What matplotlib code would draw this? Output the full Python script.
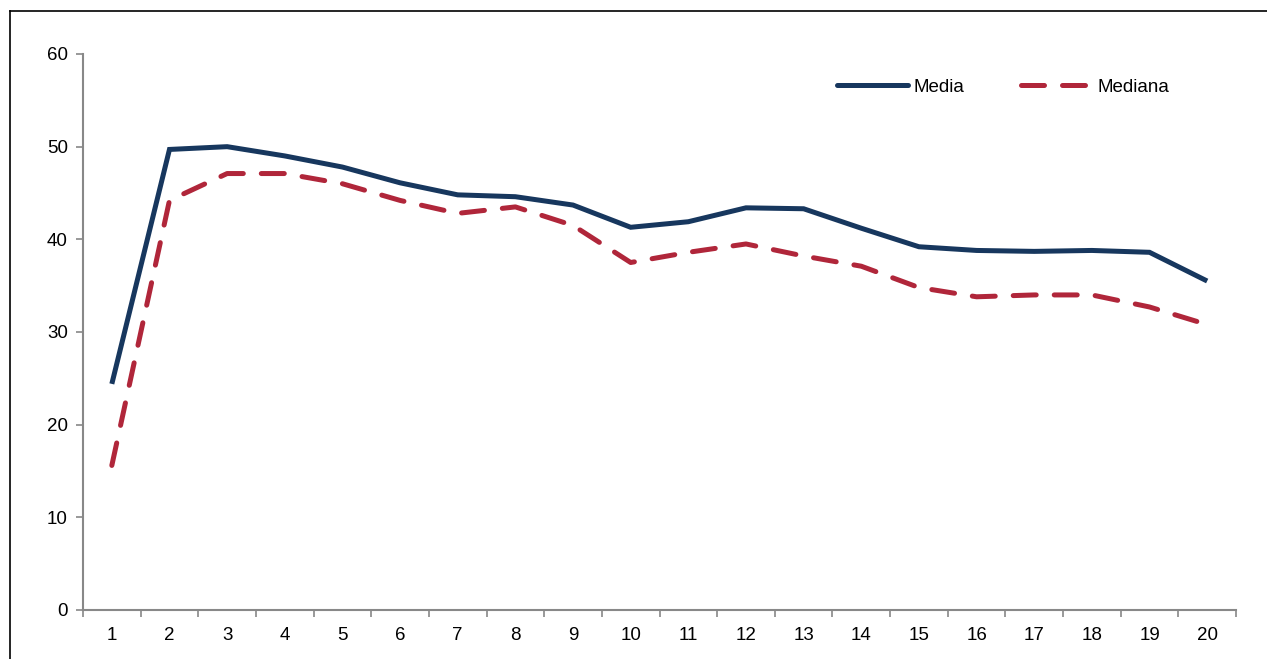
import matplotlib
matplotlib.use("Agg")
import matplotlib.pyplot as plt
from matplotlib.lines import Line2D

# values
categories = list(range(1, 21))
media = [24.4, 49.7, 50.0, 49.0, 47.8, 46.1, 44.8, 44.6, 43.7, 41.3,
         41.9, 43.4, 43.3, 41.2, 39.2, 38.8, 38.7, 38.8, 38.6, 35.5]
mediana = [15.6, 44.2, 47.1, 47.1, 46.0, 44.2, 42.8, 43.5, 41.5, 37.5,
           38.6, 39.5, 38.2, 37.1, 34.8, 33.8, 34.0, 34.0, 32.7, 30.8]
yticks = [0, 10, 20, 30, 40, 50, 60]

plt.rcParams['font.family'] = ['Liberation Sans', 'DejaVu Sans']

fig = plt.figure(figsize=(12.67, 6.59), dpi=100)
ax = fig.add_axes([83 / 1267, 49 / 659, 1153 / 1267, 556 / 659])

ax.plot(categories, media, color='#17375E', lw=3.6, label='Media',
        solid_joinstyle='miter', solid_capstyle='butt')
ax.plot(categories, mediana, color='#B0263A', lw=3.6, label='Mediana',
        dashes=(4.6, 3.6), dash_capstyle='round')

ax.set_xlim(0.5, 20.5)
ax.set_ylim(0, 60)
ax.set_yticks(yticks)

# category axis: ticks between categories, labels centred
ax.set_xticks([c - 0.5 for c in categories] + [20.5])
ax.set_xticklabels([])
ax.set_xticks(categories, minor=True)
ax.set_xticklabels([str(c) for c in categories], minor=True)
ax.tick_params(axis='x', which='minor', length=0, labelsize=13.5, pad=12)
ax.tick_params(axis='x', which='major', length=5, color='#888888', width=1.2)
ax.tick_params(axis='y', length=5, color='#888888', width=1.2, labelsize=13.5, pad=6)

for s in ['top', 'right']:
    ax.spines[s].set_visible(False)
for s in ['left', 'bottom']:
    ax.spines[s].set_color('#888888')
    ax.spines[s].set_linewidth(1.5)

leg = ax.legend(loc='upper left', bbox_to_anchor=(737 / 1153, 0.986), ncol=2, frameon=False,
                fontsize=13.5, handlelength=3.8, handletextpad=0.3, columnspacing=3.0)
for h in leg.get_lines():
    h.set_solid_capstyle('round')

# outer frame (only top and left visible in the crop)
fig.add_artist(Line2D([10 / 1267, 1.0], [1 - 11 / 659, 1 - 11 / 659],
                      transform=fig.transFigure, color='black', lw=1.2))
fig.add_artist(Line2D([10 / 1267, 10 / 1267], [0, 1 - 11 / 659],
                      transform=fig.transFigure, color='black', lw=1.2))

fig.savefig('out.png', dpi=100)
